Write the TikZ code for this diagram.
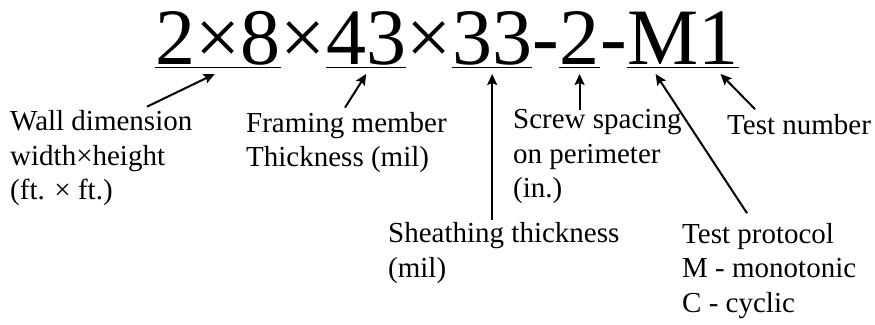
\documentclass[tikz,border=0pt]{standalone}
\usepackage{fontspec}
\setmainfont{Liberation Serif}
\usetikzlibrary{arrows.meta,calc}
\tikzset{
  code/.style={inner sep=0pt, anchor=base west, font=\fontsize{80}{90}\selectfont},
  field/.style={inner sep=0pt, anchor=base west, align=left, font=\fontsize{29}{34.5}\selectfont},
  uline/.style={line width=1pt},
  pointer/.style={-{Stealth[length=11pt,width=10pt,inset=2pt]}, line width=2pt}
}
\begin{document}
\begin{tikzpicture}[x=1pt,y=1pt]
  \useasboundingbox (0,0) rectangle (875,324);
  \node[code] (t1) at (155,259) {2×8};
  \node[code] (t2) at (t1.base east) {×};
  \node[code] (t3) at (t2.base east) {43};
  \node[code] (t4) at (t3.base east) {×};
  \node[code] (t5) at (t4.base east) {33};
  \node[code] (t6) at (t5.base east) {-};
  \node[code] (t7) at (t6.base east) {2};
  \node[code] (t8) at (t7.base east) {-};
  \node[code] (t9) at (t8.base east) {M};
  \node[code] (t10) at (t9.base east) {1};
  \foreach \seg in {t1,t3,t5,t7,t9,t10}
    \draw[uline] ([yshift=-3pt]\seg.base west) -- ([yshift=-3pt]\seg.base east);

  \node[field] (wall) at (10,124) {Wall dimension\\width×height\\(ft. × ft.)};
  \node[field] (frame) at (246,157) {Framing member\\Thickness (mil)};
  \node[field] (screw) at (513,126) {Screw spacing\\on perimeter\\(in.)};
  \node[field] (num) at (727,189) {Test number};
  \node[field] (sheath) at (388,47) {Sheathing thickness\\(mil)};
  \node[field] (proto) at (682,12) {Test protocol\\M - monotonic\\C - cyclic};

  \begin{scope}[pointer]
    \draw ([xshift=137pt,yshift=4pt]wall.north west) to ([xshift=-3pt,yshift=-9pt]t1.base);
    \draw ([xshift=99pt,yshift=4.5pt]frame.north west) to ([yshift=-9pt]t3.base);
    \draw ($(t5.base |- sheath.north)+(0,2)$) to ([yshift=-9pt]t5.base);
    \draw (t7.base |- screw.north) to ([yshift=-9pt]t7.base);
    \draw ([xshift=65pt,yshift=9.5pt]proto.north west) to ([xshift=-7pt,yshift=-9pt]t9.base);
    \draw ([xshift=28pt,yshift=5.5pt]num.north west) to ([xshift=2pt,yshift=-9pt]t10.base);
  \end{scope}
\end{tikzpicture}
\end{document}
